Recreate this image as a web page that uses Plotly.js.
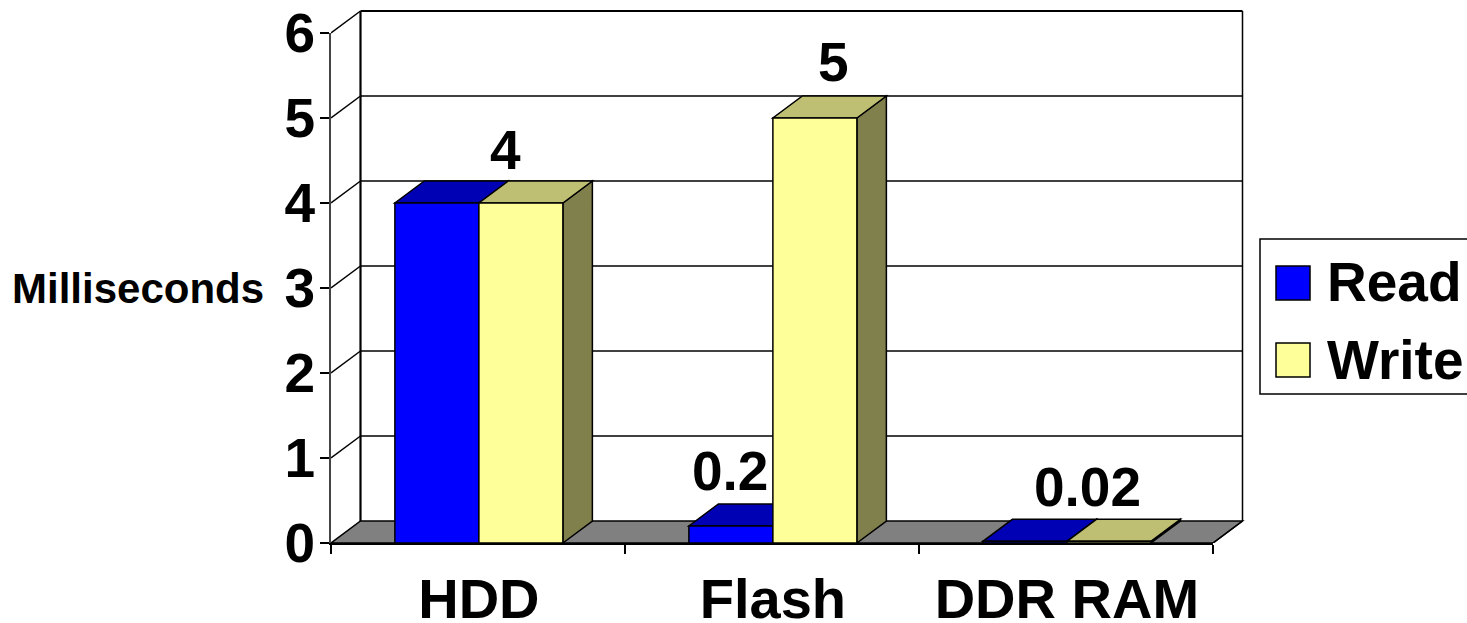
<!DOCTYPE html>
<html>
<head>
<meta charset="utf-8">
<script src="https://cdn.plot.ly/plotly-3.0.1.min.js"></script>
<style>html,body{margin:0;padding:0;background:#fff}#c{width:1467px;height:623px}</style>
</head>
<body>
<div id="c"></div>
<script>
const categories = ["HDD", "Flash", "DDR RAM"];
const catIndex = [0, 1, 2];
const readValues = [4, 0.2, 0.02];
const writeValues = [4, 5, 0.02];
const yTicks = [0, 1, 2, 3, 4, 5, 6];
const catBoundaries = [-0.503, 0.497, 1.497, 2.497];
const labelTexts = ["4", "5", "0.2", "0.02"];
const labelCats = [0, 1, 1, 2];
const labelValues = [4, 5, 0.2, 0.02];

// Geometry of the plot (pixels) and the fake 3D depth
const L = 331, B = 543, plotR = 1247, plotT = 6;
const pxCat = 294, pxUnit = 85, depthX = 29.5, depthY = 22;
const W = plotR - L, H = B - plotT;
const xStart = catBoundaries[0], xEnd = xStart + W / pxCat, yEnd = H / pxUnit;
const dx = depthX / pxCat, dy = depthY / pxUnit;
const barW = 84 / pxCat;
const xFront0 = catBoundaries[0], xFront1 = catBoundaries[3];

const FONT = '"Liberation Sans", Arial, sans-serif';
const BIG = 55;
const BLUE = { front: "#0000FF", top: "#0000B4", side: "#000080" };
const YEL = { front: "#FFFF99", top: "#BFBF73", side: "#80804D" };

const poly = pts => "M" + pts.map(p => p[0] + " " + p[1]).join("L") + "Z";
const face = (pts, fill, w) => ({
  type: "path", xref: "x", yref: "y", layer: "below", path: poly(pts),
  fillcolor: fill, line: { color: "#000", width: w === undefined ? 1.5 : w }
});
const seg = (x0, y0, x1, y1, w) => ({
  type: "line", xref: "x", yref: "y", layer: "below", x0, y0, x1, y1,
  line: { color: "#000", width: w }
});

const shapes = [];
// floor
shapes.push(face([[xFront0, 0], [xFront1, 0], [xFront1 + dx, dy], [xFront0 + dx, dy]], "#808080"));
// gridlines on back wall and side wall
yTicks.forEach(v => {
  if (v > 0) {
    shapes.push(seg(xFront0, v, xFront0 + dx, v + dy, 1.5));
    shapes.push(seg(xFront0 + dx, v + dy, xFront1 + dx, v + dy, v === 6 ? 2.2 : 1.5));
  }
});
// wall verticals
shapes.push(seg(xFront0 + dx, dy, xFront0 + dx, 6 + dy, 2.2));
shapes.push(seg(xFront1 + dx, dy, xFront1 + dx, 6 + dy, 1.5));
shapes.push(seg(xFront1, 0, xFront1 + dx, dy, 1.5));

// Top and side faces of the bars; the bars' front faces (real bar traces) paint over them
function box3d(values, sign, col) {
  values.forEach((v, i) => {
    const x0 = catIndex[i] + (sign < 0 ? -barW : 0), x1 = x0 + barW;
    shapes.push(face([[x1, 0], [x1 + dx, dy], [x1 + dx, v + dy], [x1, v]], col.side));
    shapes.push(face([[x0, v], [x1, v], [x1 + dx, v + dy], [x0 + dx, v + dy]], col.top));
  });
}
box3d(readValues, -1, BLUE);
box3d(writeValues, 1, YEL);

// Legend (paper coordinates relative to the plot area)
const px = x => (x - L) / W, py = y => (B - y) / H;
const legendRect = (x0, y0, x1, y1, fill, w) => ({
  type: "rect", xref: "paper", yref: "paper", x0: px(x0), x1: px(x1), y0: py(y0), y1: py(y1),
  fillcolor: fill, line: { color: "#000", width: w }, layer: "above"
});
shapes.push(legendRect(1260, 239, 1480, 394, "#fff", 1.5));
shapes.push(legendRect(1276, 266, 1310, 300, BLUE.front, 1.5));
shapes.push(legendRect(1276, 343, 1310, 377, YEL.front, 1.5));

const labelShiftX = [27, 61, -43, 21];
const labelShiftY = [53, 56, 55, 54];
const annotations = labelTexts.map((t, i) => ({
  text: t, x: labelCats[i], y: labelValues[i], xref: "x", yref: "y",
  xshift: labelShiftX[i], yshift: labelShiftY[i], showarrow: false, xanchor: "center", yanchor: "middle",
  font: { family: FONT, size: BIG, color: "#000", weight: 700 }
}));
annotations.push({
  text: "Milliseconds", xref: "paper", yref: "paper", x: px(138), y: py(288),
  showarrow: false, xanchor: "center", yanchor: "middle",
  font: { family: FONT, size: 42, color: "#000", weight: 700 }
});
[["Read", 282], ["Write", 360]].forEach(([t, y]) => annotations.push({
  text: t, xref: "paper", yref: "paper", x: px(1325), y: py(y),
  showarrow: false, xanchor: "left", yanchor: "middle",
  font: { family: FONT, size: BIG, color: "#000", weight: 700 }
}));

const barBase = { type: "bar", x: catIndex, width: barW, hoverinfo: "y+name", xaxis: "x", yaxis: "y" };
const traces = [
  Object.assign({}, barBase, { name: "Read", y: readValues, offset: -barW,
    marker: { color: BLUE.front, line: { color: "#000", width: 1.5 } } }),
  Object.assign({}, barBase, { name: "Write", y: writeValues, offset: 0,
    marker: { color: YEL.front, line: { color: "#000", width: 1.5 } } }),
  // Carries the visible front-plane axes (x2 / y2); draws nothing itself
  { type: "scatter", mode: "markers", x: catIndex, y: writeValues, xaxis: "x2", yaxis: "y2",
    marker: { opacity: 0 }, hoverinfo: "skip", showlegend: false }
];

const layout = {
  width: 1467, height: 623, autosize: false,
  margin: { l: L, r: 1467 - plotR, t: plotT, b: 623 - B, pad: 0 },
  paper_bgcolor: "#fff", plot_bgcolor: "rgba(0,0,0,0)", showlegend: false, barmode: "overlay",
  font: { family: FONT, color: "#000" },
  xaxis: {
    range: [xStart, xEnd], tickmode: "array", tickvals: catIndex, ticktext: categories,
    showgrid: false, zeroline: false, showline: false, ticks: "", ticklabelstandoff: 18,
    tickfont: { family: FONT, size: 56, color: "#000", weight: 700 }
  },
  yaxis: { range: [0, yEnd], showgrid: false, zeroline: false, showline: false, ticks: "", showticklabels: false },
  xaxis2: {
    domain: [0, (xFront1 - xFront0) * pxCat / W], range: [xFront0, xFront1], anchor: "y2",
    tickmode: "array", tickvals: catBoundaries, showticklabels: false, showgrid: false, zeroline: false,
    showline: true, linecolor: "#000", linewidth: 2, ticks: "outside", ticklen: 9, tickwidth: 1.5, tickcolor: "#000"
  },
  yaxis2: {
    domain: [0, 6 * pxUnit / H], range: [0, 6], anchor: "x2",
    tickmode: "array", tickvals: yTicks, showgrid: false, zeroline: false,
    showline: true, linecolor: "#444", linewidth: 2, ticks: "outside", ticklen: 9, tickwidth: 1.5, tickcolor: "#000",
    ticklabelstandoff: -6,
    tickfont: { family: FONT, size: BIG, color: "#000", weight: 700 }
  },
  shapes, annotations
};
Plotly.newPlot("c", traces, layout, { staticPlot: true, displayModeBar: false });
</script>
</body>
</html>
